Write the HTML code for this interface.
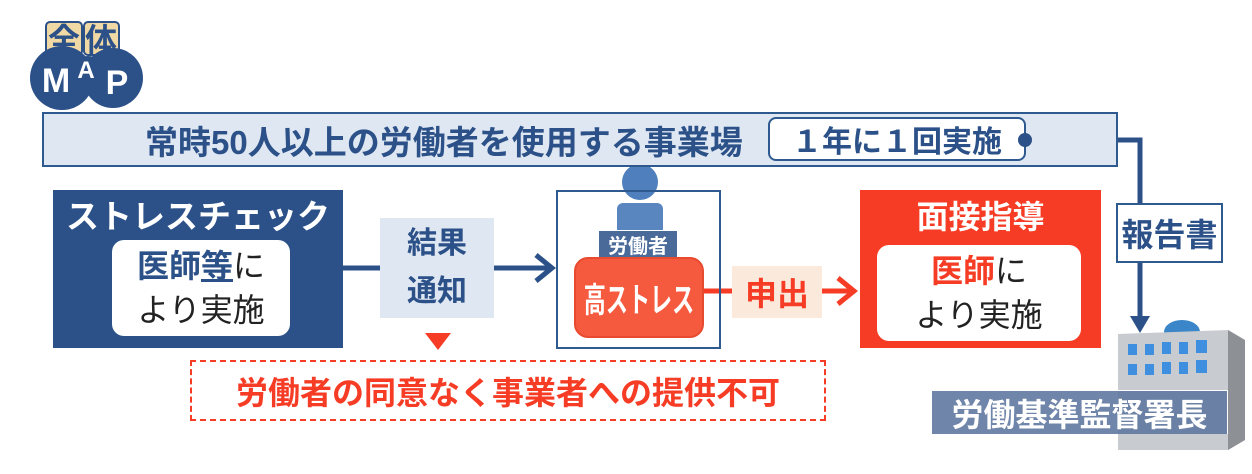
<!DOCTYPE html>
<html><head><meta charset="utf-8"><style>
body{margin:0;width:1252px;height:474px;background:#fff;position:relative;overflow:hidden;font-family:"Liberation Sans","Noto Sans CJK JP",sans-serif;font-weight:bold}
div{position:absolute;box-sizing:border-box}
.c{display:flex;align-items:center;justify-content:center;text-align:center;white-space:nowrap}
</style></head><body>
<svg width="1252" height="474" style="position:absolute;left:0;top:0">
<rect x="46" y="22" width="36" height="33" rx="4" fill="#f1d9a6" stroke="#2b5188" stroke-width="2"/>
<rect x="84" y="22" width="35" height="33" rx="4" fill="#f1d9a6" stroke="#2b5188" stroke-width="2"/>
<text x="64" y="51" font-size="32" text-anchor="middle" fill="#2b5188" font-weight="bold" font-family="Noto Sans CJK JP">全</text>
<text x="101" y="51" font-size="32" text-anchor="middle" fill="#2b5188" font-weight="bold" font-family="Noto Sans CJK JP">体</text>
<circle cx="88" cy="72" r="16" fill="#2b5188"/>
<circle cx="62" cy="78" r="32" fill="#2b5188"/>
<circle cx="113" cy="78" r="30" fill="#2b5188"/>
<text x="56" y="92" font-size="34" text-anchor="middle" fill="#fff" font-weight="bold">M</text>
<text x="86" y="78" font-size="24" text-anchor="middle" fill="#fff" font-weight="bold">A</text>
<text x="117" y="94" font-size="34" text-anchor="middle" fill="#fff" font-weight="bold">P</text>
<line x1="342" y1="268" x2="548" y2="268" stroke="#2b5188" stroke-width="5"/>
<polyline points="536,255 552,268 536,281" fill="none" stroke="#2b5188" stroke-width="5"/>
<line x1="704" y1="291" x2="850" y2="291" stroke="#f63c25" stroke-width="5"/>
<polyline points="838,278 854,291 838,304" fill="none" stroke="#f63c25" stroke-width="5"/>
<polygon points="425,333 451,333 438,350" fill="#f63c25"/>
<polyline points="1025,140 1140,140 1140,318" fill="none" stroke="#2b5188" stroke-width="5"/>
<polygon points="1130,316 1150,316 1140,333" fill="#2b5188"/>
<circle cx="640" cy="182" r="18" fill="#4f80bd"/>
<rect x="617" y="203" width="46" height="40" rx="6" fill="#5a86c0"/>
<ellipse cx="1182" cy="332" rx="18" ry="12" fill="#3a86c8"/>
<polygon points="1118,334 1228,330 1245,340 1245,440 1228,450 1118,450" fill="#c8cbd0"/>
<polygon points="1228,330 1245,340 1245,440 1228,450" fill="#8d9196"/>
<g fill="#3e8fe0">
<rect x="1128" y="344" width="9" height="11"/><rect x="1145" y="344" width="9" height="11"/><rect x="1162" y="342" width="9" height="12"/><rect x="1179" y="342" width="9" height="12"/><rect x="1196" y="340" width="11" height="13"/>
<rect x="1128" y="364" width="9" height="11"/><rect x="1145" y="364" width="9" height="11"/><rect x="1162" y="362" width="9" height="12"/><rect x="1179" y="362" width="9" height="12"/><rect x="1196" y="360" width="11" height="13"/>
</g>
</svg>
<div class="c" style="left:42px;top:112px;width:1076px;height:55px;background:#dfe7f2;border:2px solid #2f5a8f;justify-content:flex-start;padding-left:101px;font-size:33px;color:#2b5188">常時50人以上の労働者を使用する事業場</div>
<div class="c" style="left:768px;top:117px;width:258px;height:44px;background:#fff;border:2px solid #2f5a8f;border-radius:8px;font-size:30px;color:#2b5188">１年に１回実施</div>
<div style="left:1018px;top:133px;width:14px;height:14px;border-radius:50%;background:#2b5188"></div>
<div class="c" style="left:1116px;top:203px;width:107px;height:60px;background:#fff;border:2px solid #2f5a8f;font-size:32px;color:#2b5188">報告書</div>
<div style="left:53px;top:190px;width:290px;height:158px;background:#2b5188"></div>
<div class="c" style="left:53px;top:193px;width:290px;height:42px;color:#fff;font-size:33px">ストレスチェック</div>
<div class="c" style="left:112px;top:240px;width:178px;height:96px;background:#fff;border-radius:12px;font-size:32px;font-weight:normal;color:#222;line-height:44px;flex-direction:column"><span><span style="color:#2b5188;font-weight:bold">医師<u>等</u></span>に</span><span>より実施</span></div>
<div class="c" style="left:380px;top:218px;width:114px;height:100px;background:#dfe7f2;flex-direction:column;font-size:30px;color:#2b5188;line-height:48px"><span>結果</span><span>通知</span></div>
<div class="c" style="left:190px;top:360px;width:636px;height:61px;border:2px dashed #f63c25;font-size:32px;color:#f63c25">労働者の同意なく事業者への提供不可</div>
<div style="left:556px;top:190px;width:165px;height:159px;border:2px solid #2f5a8f"></div>
<div class="c" style="left:598px;top:230px;width:80px;height:28px;background:#4a6a9a;border:1px solid #fff;color:#fff;font-size:20px">労働者</div>
<div class="c" style="left:574px;top:257px;width:130px;height:81px;background:#f55a3f;border:2px solid #e84a30;border-radius:14px;color:#fff;font-size:34px"><span style="display:inline-block;transform:scaleX(0.65)">高ストレス</span></div>
<div class="c" style="left:732px;top:266px;width:90px;height:52px;background:#fbe9dc;color:#f63c25;font-size:32px">申出</div>
<div style="left:860px;top:190px;width:241px;height:158px;background:#f63c25"></div>
<div class="c" style="left:860px;top:194px;width:241px;height:42px;color:#fff;font-size:32px">面接指導</div>
<div class="c" style="left:877px;top:245px;width:204px;height:96px;background:#fff;border-radius:12px;font-size:32px;font-weight:normal;color:#222;line-height:44px;flex-direction:column"><span><span style="color:#f63c25;font-weight:bold">医師</span>に</span><span>より実施</span></div>
<div class="c" style="left:932px;top:390px;width:296px;height:44px;background:rgba(95,120,160,0.9);border-top:1px solid #fff;border-right:1px solid #fff;color:#fff;font-size:32px">労働基準監督署長</div>
</body></html>
